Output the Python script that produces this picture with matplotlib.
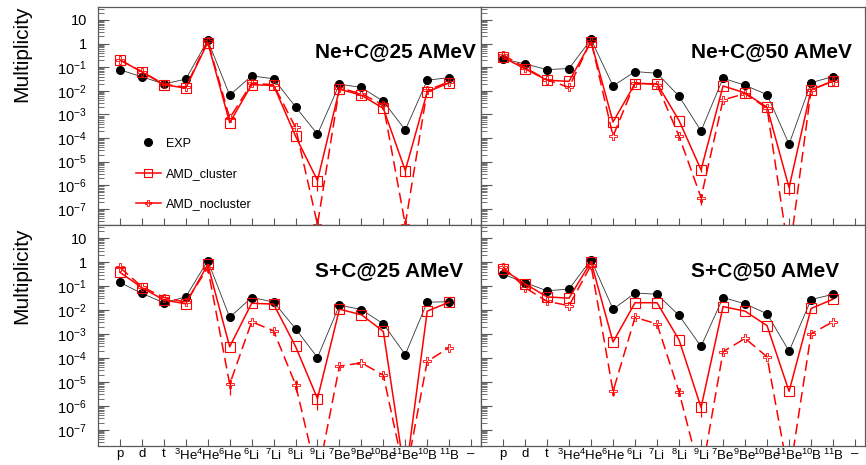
# -*- coding: utf-8 -*-

import matplotlib.pyplot as plt
from matplotlib.lines import Line2D
from matplotlib.ticker import FixedLocator, FixedFormatter, NullFormatter

plt.rcParams["font.family"] = ["Liberation Sans", "DejaVu Sans"]
plt.rcParams["mathtext.fontset"] = "custom"
plt.rcParams["mathtext.rm"] = "Liberation Sans"
plt.rcParams["mathtext.it"] = "Liberation Sans:italic"
plt.rcParams["mathtext.bf"] = "Liberation Sans:bold"

species = ["p", "d", "t", "$^{3}$He", "$^{4}$He", "$^{6}$He", "$^{6}$Li", "$^{7}$Li",
           "$^{8}$Li", "$^{9}$Li", "$^{7}$Be", "$^{9}$Be", "$^{10}$Be", "$^{11}$Be",
           "$^{10}$B", "$^{11}$B"]
tick_labels = species + ["\u2013"]

# Ne+C @ 25 AMeV
ne25_exp = [0.077, 0.039, 0.0195, 0.031, 1.38, 0.0065, 0.043, 0.032, 0.0021, 1.45e-4,
            0.019, 0.0138, 0.0036, 2.2e-4, 0.028, 0.036]
ne25_cl = [0.20, 0.063, 0.018, 0.013, 1.1, 4.5e-4, 0.018, 0.017, 1.2e-4, 1.6e-6,
           0.0117, 0.0065, 0.0018, 4.2e-6, 0.0090, 0.0215]
ne25_nocl = [0.20, 0.065, 0.019, 0.014, 1.3, 6.9e-4, 0.021, 0.018, 2.8e-4, 2.2e-8,
             0.013, 0.0075, 0.0025, 2.2e-8, 0.0105, 0.024]
ne25_cl_err = [0] * 9 + [1.0e-6] + [0] * 3 + [2.0e-6, 0, 0]
ne25_nocl_err = [0] * 16

# Ne+C @ 50 AMeV
ne50_exp = [0.22, 0.137, 0.079, 0.087, 1.5, 0.016, 0.065, 0.055, 0.0059, 2.0e-4,
            0.034, 0.017, 0.0069, 5.5e-5, 0.022, 0.040]
ne50_cl = [0.26, 0.085, 0.028, 0.025, 1.2, 4.8e-4, 0.020, 0.020, 5.5e-4, 4.5e-6,
           0.016, 0.0081, 0.0020, 8.0e-7, 0.011, 0.026]
ne50_nocl = [0.33, 0.096, 0.029, 0.014, 1.3, 1.2e-4, 0.022, 0.018, 1.2e-4, 3.0e-7,
             0.0041, 0.0076, 0.0018, 1.0e-9, 0.0108, 0.026]
ne50_cl_err = [0] * 9 + [1.0e-6] + [0] * 3 + [4.0e-7, 0, 0]
ne50_nocl_err = [0] * 9 + [1.5e-7] + [0] * 6

# S+C @ 25 AMeV
s25_exp = [0.14, 0.049, 0.020, 0.035, 1.15, 0.0049, 0.033, 0.0215, 0.00165, 1.03e-4,
           0.0158, 0.0104, 0.0026, 1.37e-4, 0.021, 0.022]
s25_cl = [0.37, 0.085, 0.026, 0.018, 0.79, 2.9e-4, 0.019, 0.0175, 3.0e-4, 2.0e-6,
          0.0107, 0.0063, 0.00127, 1.0e-9, 0.0089, 0.021]
s25_nocl = [0.59, 0.093, 0.033, 0.021, 0.57, 7.9e-6, 0.0032, 0.00135, 7.7e-6, 1.0e-9,
            4.5e-5, 6.2e-5, 1.9e-5, 1.0e-9, 7.1e-5, 2.7e-4]
s25_cl_err = [0] * 9 + [1.3e-6] + [0] * 6
s25_nocl_err = [0] * 5 + [5.0e-6, 0, 0, 4.0e-6] + [0] * 7

# S+C @ 50 AMeV
s50_exp = [0.31, 0.137, 0.063, 0.074, 1.26, 0.0107, 0.051, 0.045, 0.0059, 3.0e-4,
           0.033, 0.018, 0.0069, 1.9e-4, 0.027, 0.045]
s50_cl = [0.49, 0.124, 0.035, 0.031, 1.02, 4.6e-4, 0.020, 0.020, 5.6e-4, 8.5e-7,
          0.0138, 0.0089, 0.0022, 4.0e-6, 0.0115, 0.028]
s50_nocl = [0.63, 0.085, 0.023, 0.015, 0.74, 4.0e-6, 0.0049, 0.0026, 3.8e-6, 1.0e-9,
            1.8e-4, 6.5e-4, 1.1e-4, 1.0e-9, 0.00102, 0.0032]
s50_cl_err = [0] * 9 + [5.0e-7] + [0] * 6
s50_nocl_err = [0] * 5 + [1.5e-6, 0, 0, 1.2e-6] + [0] * 7

panels = [
    ("Ne+C@25 AMeV", ne25_exp, ne25_cl, ne25_nocl, ne25_cl_err, ne25_nocl_err,
     [98 / 866, 1 - 225 / 465, 383 / 866, 218 / 465], 0.567, True, False),
    ("Ne+C@50 AMeV", ne50_exp, ne50_cl, ne50_nocl, ne50_cl_err, ne50_nocl_err,
     [481 / 866, 1 - 225 / 465, 384 / 866, 218 / 465], 0.547, False, False),
    ("S+C@25 AMeV", s25_exp, s25_cl, s25_nocl, s25_cl_err, s25_nocl_err,
     [98 / 866, 1 - 446 / 465, 383 / 866, 221 / 465], 0.567, True, True),
    ("S+C@50 AMeV", s50_exp, s50_cl, s50_nocl, s50_cl_err, s50_nocl_err,
     [481 / 866, 1 - 446 / 465, 384 / 866, 221 / 465], 0.547, False, True),
]

fig = plt.figure(figsize=(8.66, 4.65), dpi=100)
x = list(range(len(species)))
major = [10.0 ** k for k in range(-7, 2)]
major_labels = ["$10^{%d}$" % k for k in range(-7, 0)] + ["1", "10"]
minor = [m * 10.0 ** k for k in range(-9, 2) for m in range(2, 10)]

for i, (title, exp, cl, nocl, cl_err, nocl_err, rect, tx, left, bottom) in enumerate(panels):
    ax = fig.add_axes(rect)
    ax.errorbar(x, nocl, yerr=nocl_err, color="red", lw=1.1, ls=(0, (7, 3.5)),
                marker="P", ms=6, mfc="none", mec="red", mew=0.6, elinewidth=0.9,
                capsize=0)
    ax.errorbar(x, cl, yerr=cl_err, color="red", lw=1.1, marker="s", ms=6.5,
                mfc="none", mec="red", mew=0.8, elinewidth=0.9, capsize=0)
    ax.plot(x, exp, color="0.2", lw=0.6, marker="o", ms=5.5, mfc="black", mec="black")

    ax.set_yscale("log")
    ax.set_ylim(2.1e-8, 35)
    ax.set_xlim(-1, 16.45)

    ax.yaxis.set_major_locator(FixedLocator(major))
    ax.yaxis.set_minor_locator(FixedLocator(minor))
    ax.yaxis.set_minor_formatter(NullFormatter())
    if left:
        ax.yaxis.set_major_formatter(FixedFormatter(major_labels))
    else:
        ax.yaxis.set_major_formatter(NullFormatter())
    ax.tick_params(axis="y", which="major", direction="in", length=8, width=0.8,
                   labelsize=10.5, pad=8, color="0.35", right=False)
    ax.tick_params(axis="y", which="minor", direction="in", length=4, width=0.6,
                   color="0.35", right=False)

    ax.set_xticks(range(len(tick_labels)))
    if bottom:
        ax.set_xticklabels(tick_labels)
    else:
        ax.set_xticklabels([])
    ax.tick_params(axis="x", which="major", direction="in", length=5, width=0.8,
                   labelsize=9.5, pad=1.5, color="0.35", top=False)
    ax.tick_params(axis="x", which="minor", bottom=False, top=False)

    for sp in ax.spines.values():
        sp.set_color("0.35")
        sp.set_linewidth(0.9)

    ax.text(tx, 0.795, title, transform=ax.transAxes, ha="left", va="center",
            fontsize=15, fontweight="bold")

    if i == 0:
        handles = [
            Line2D([], [], ls="none", marker="o", ms=5.5, color="black"),
            Line2D([], [], color="red", lw=1.1, marker="s", ms=6, mfc="none", mew=0.8),
            Line2D([], [], color="red", lw=1.1, marker="P", ms=5, mfc="none", mew=0.6),
        ]
        ax.legend(handles, ["EXP", "AMD_cluster", "AMD_nocluster"], loc="center left",
                  bbox_to_anchor=(0.1, 0.234), frameon=False, fontsize=9,
                  handlelength=1.95, handletextpad=0.45, labelspacing=1.45,
                  borderpad=0, borderaxespad=0)

fig.text(22 / 866, 1 - 6 / 465, "Multiplicity", rotation=90, ha="center", va="top",
         fontsize=15)
fig.text(22 / 866, 1 - 227 / 465, "Multiplicity", rotation=90, ha="center", va="top",
         fontsize=15)

plt.savefig("out.png", dpi=100)
plt.close()
